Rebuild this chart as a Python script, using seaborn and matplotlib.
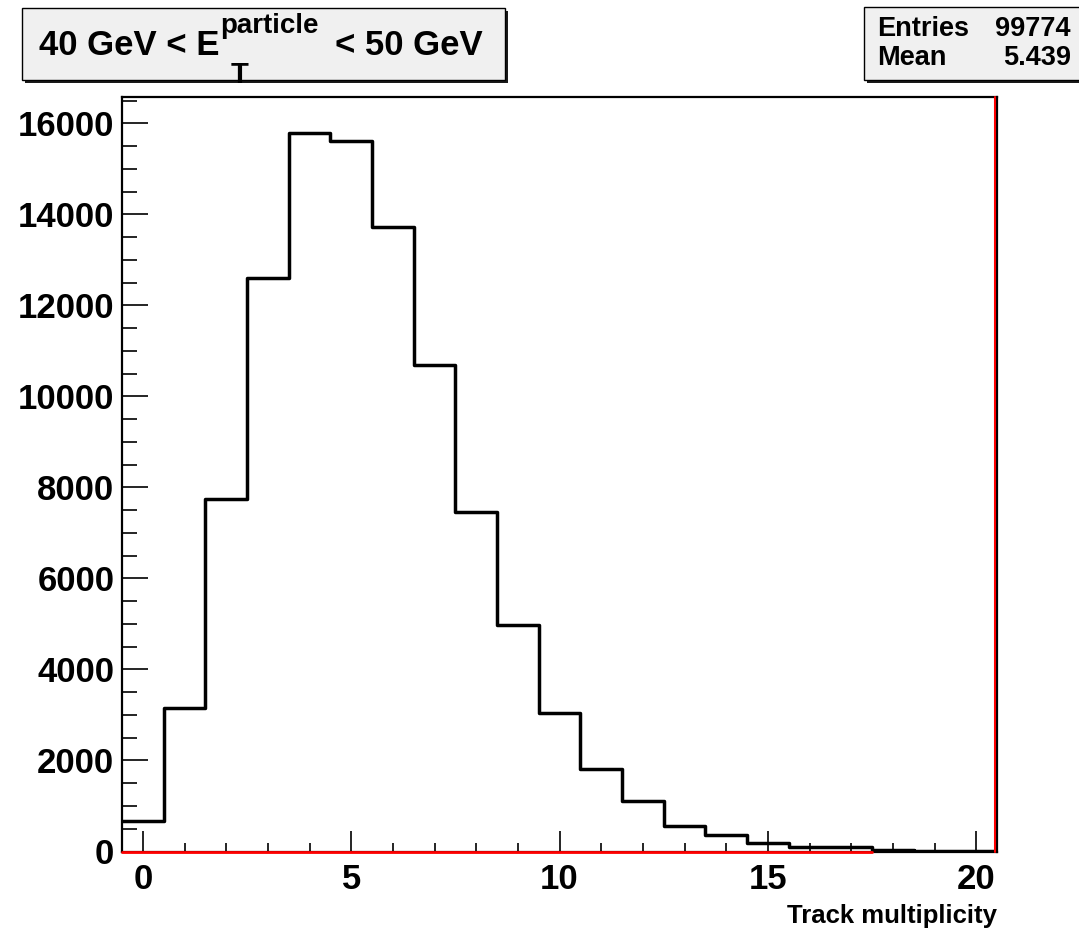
import numpy as np
import pandas as pd
import matplotlib
matplotlib.use("Agg")
import matplotlib.pyplot as plt
from matplotlib.lines import Line2D
from matplotlib.patches import Rectangle
from matplotlib.ticker import MultipleLocator, StrMethodFormatter
from matplotlib.transforms import offset_copy
import seaborn as sns

# Track multiplicity, one bin per integer value
multiplicity = list(range(21))
counts = [663, 3160, 7741, 12598, 15785, 15615, 13732, 10692, 7468, 4978,
          3051, 1807, 1116, 567, 363, 180, 105, 100, 30, 15, 8]

# overlay histogram (empty over its range)
overlay_multiplicity = list(range(18))
overlay_counts = [0] * 18

title_lead = "40 GeV < E"
title_sup = "particle"
title_sub = "T"
title_tail = "< 50 GeV"
x_label = "Track multiplicity"
stats_labels = ["Entries", "Mean"]
stats_values = ["99774", "5.439"]

x_lo, x_hi = -0.5, 20.5
y_max = 16575

W, H = 1079, 931
sns.set_theme(style="white")
plt.rcParams["font.family"] = ["Liberation Sans", "DejaVu Sans"]
plt.rcParams["font.weight"] = "bold"

fig = plt.figure(figsize=(W / 100, H / 100), dpi=100)
fig.patch.set_facecolor("white")


def fx(px):
    return px / W


def fy(py):
    return 1 - py / H


ax = fig.add_axes([fx(122), fy(851.5), (997 - 122) / W, (851.5 - 97.3) / H])
ax.set_facecolor("white")

df = pd.DataFrame({"mult": multiplicity, "n": counts})
sns.histplot(data=df, x="mult", weights="n", discrete=True, element="step",
             fill=False, color="black", linewidth=2.5, ax=ax, zorder=3)

df_o = pd.DataFrame({"mult": overlay_multiplicity, "n": overlay_counts})
sns.histplot(data=df_o, x="mult", weights="n", discrete=True, element="step",
             fill=False, color="red", linewidth=2.0, ax=ax, zorder=4, clip_on=False)

# right-hand edge of the overlay, just inside the frame
edge_tr = offset_copy(ax.get_xaxis_transform(), fig=fig, x=-2.5, y=0, units="dots")
ax.add_line(Line2D([x_hi, x_hi], [0, 1], transform=edge_tr, color="red", lw=1.5,
                   zorder=4, clip_on=False))

ax.set_xlim(x_lo, x_hi)
ax.set_ylim(0, y_max)
ax.set_ylabel("")
ax.set_xlabel(x_label, loc="right", fontsize=18.5, fontweight="bold", labelpad=6, color="black")

ax.xaxis.set_major_locator(MultipleLocator(5))
ax.xaxis.set_minor_locator(MultipleLocator(1))
ax.yaxis.set_major_locator(MultipleLocator(2000))
ax.yaxis.set_minor_locator(MultipleLocator(500))
ax.yaxis.set_major_formatter(StrMethodFormatter("{x:.0f}"))
ax.xaxis.set_major_formatter(StrMethodFormatter("{x:.0f}"))

ax.tick_params(axis="x", which="major", direction="in", length=15, width=1.2,
               labelsize=25, pad=8, top=False, bottom=True, colors="black")
ax.tick_params(axis="x", which="minor", direction="in", length=6.5, width=1.2,
               top=False, bottom=True, colors="black")
ax.tick_params(axis="y", which="major", direction="in", length=19, width=1.2,
               labelsize=25, pad=5.5, left=True, right=False, colors="black")
ax.tick_params(axis="y", which="minor", direction="in", length=11, width=1.2,
               left=True, right=False, colors="black")
for s in ax.spines.values():
    s.set_color("black")
    s.set_linewidth(1.6)
    s.set_visible(True)

# ---- title pave ----
fig.add_artist(Rectangle((fx(25), fy(83)), (505 - 22) / W, 72 / H,
                         transform=fig.transFigure, facecolor="#1a1a1a", edgecolor="none", zorder=5))
fig.add_artist(Rectangle((fx(22), fy(80)), (505 - 22) / W, 72 / H,
                         transform=fig.transFigure, facecolor="#f0f0f0", edgecolor="black",
                         lw=1, zorder=6))

renderer = fig.canvas.get_renderer()
t1 = fig.text(fx(39), fy(55), title_lead, fontsize=25, fontweight="bold",
              ha="left", va="baseline", color="black", zorder=7)
bb1 = t1.get_window_extent(renderer)
t_sup = fig.text((bb1.x1 + 1) / W, fy(33), title_sup, fontsize=20, fontweight="bold",
                 ha="left", va="baseline", color="black", zorder=7)
t_sub = fig.text((bb1.x1 + 11) / W, fy(83), title_sub, fontsize=21, fontweight="bold",
                 ha="left", va="baseline", color="black", zorder=7)
bb_sup = t_sup.get_window_extent(renderer)
fig.text((bb_sup.x1 + 16) / W, fy(55), title_tail, fontsize=25, fontweight="bold",
         ha="left", va="baseline", color="black", zorder=7)

# ---- statistics pave ----
fig.add_artist(Rectangle((fx(867), fy(83)), (1095 - 867) / W, 73 / H,
                         transform=fig.transFigure, facecolor="#1a1a1a", edgecolor="none", zorder=5))
fig.add_artist(Rectangle((fx(864), fy(80)), (1095 - 864) / W, 73 / H,
                         transform=fig.transFigure, facecolor="#f0f0f0", edgecolor="black",
                         lw=1, zorder=6))
for i, (lab, val) in enumerate(zip(stats_labels, stats_values)):
    yb = 36 + 29 * i
    fig.text(fx(877), fy(yb), lab, fontsize=19.5, fontweight="bold",
             ha="left", va="baseline", color="black", zorder=7)
    fig.text(fx(1071), fy(yb), val, fontsize=19.5, fontweight="bold",
             ha="right", va="baseline", color="black", zorder=7)

fig.savefig("out.png", dpi=100, facecolor="white")
